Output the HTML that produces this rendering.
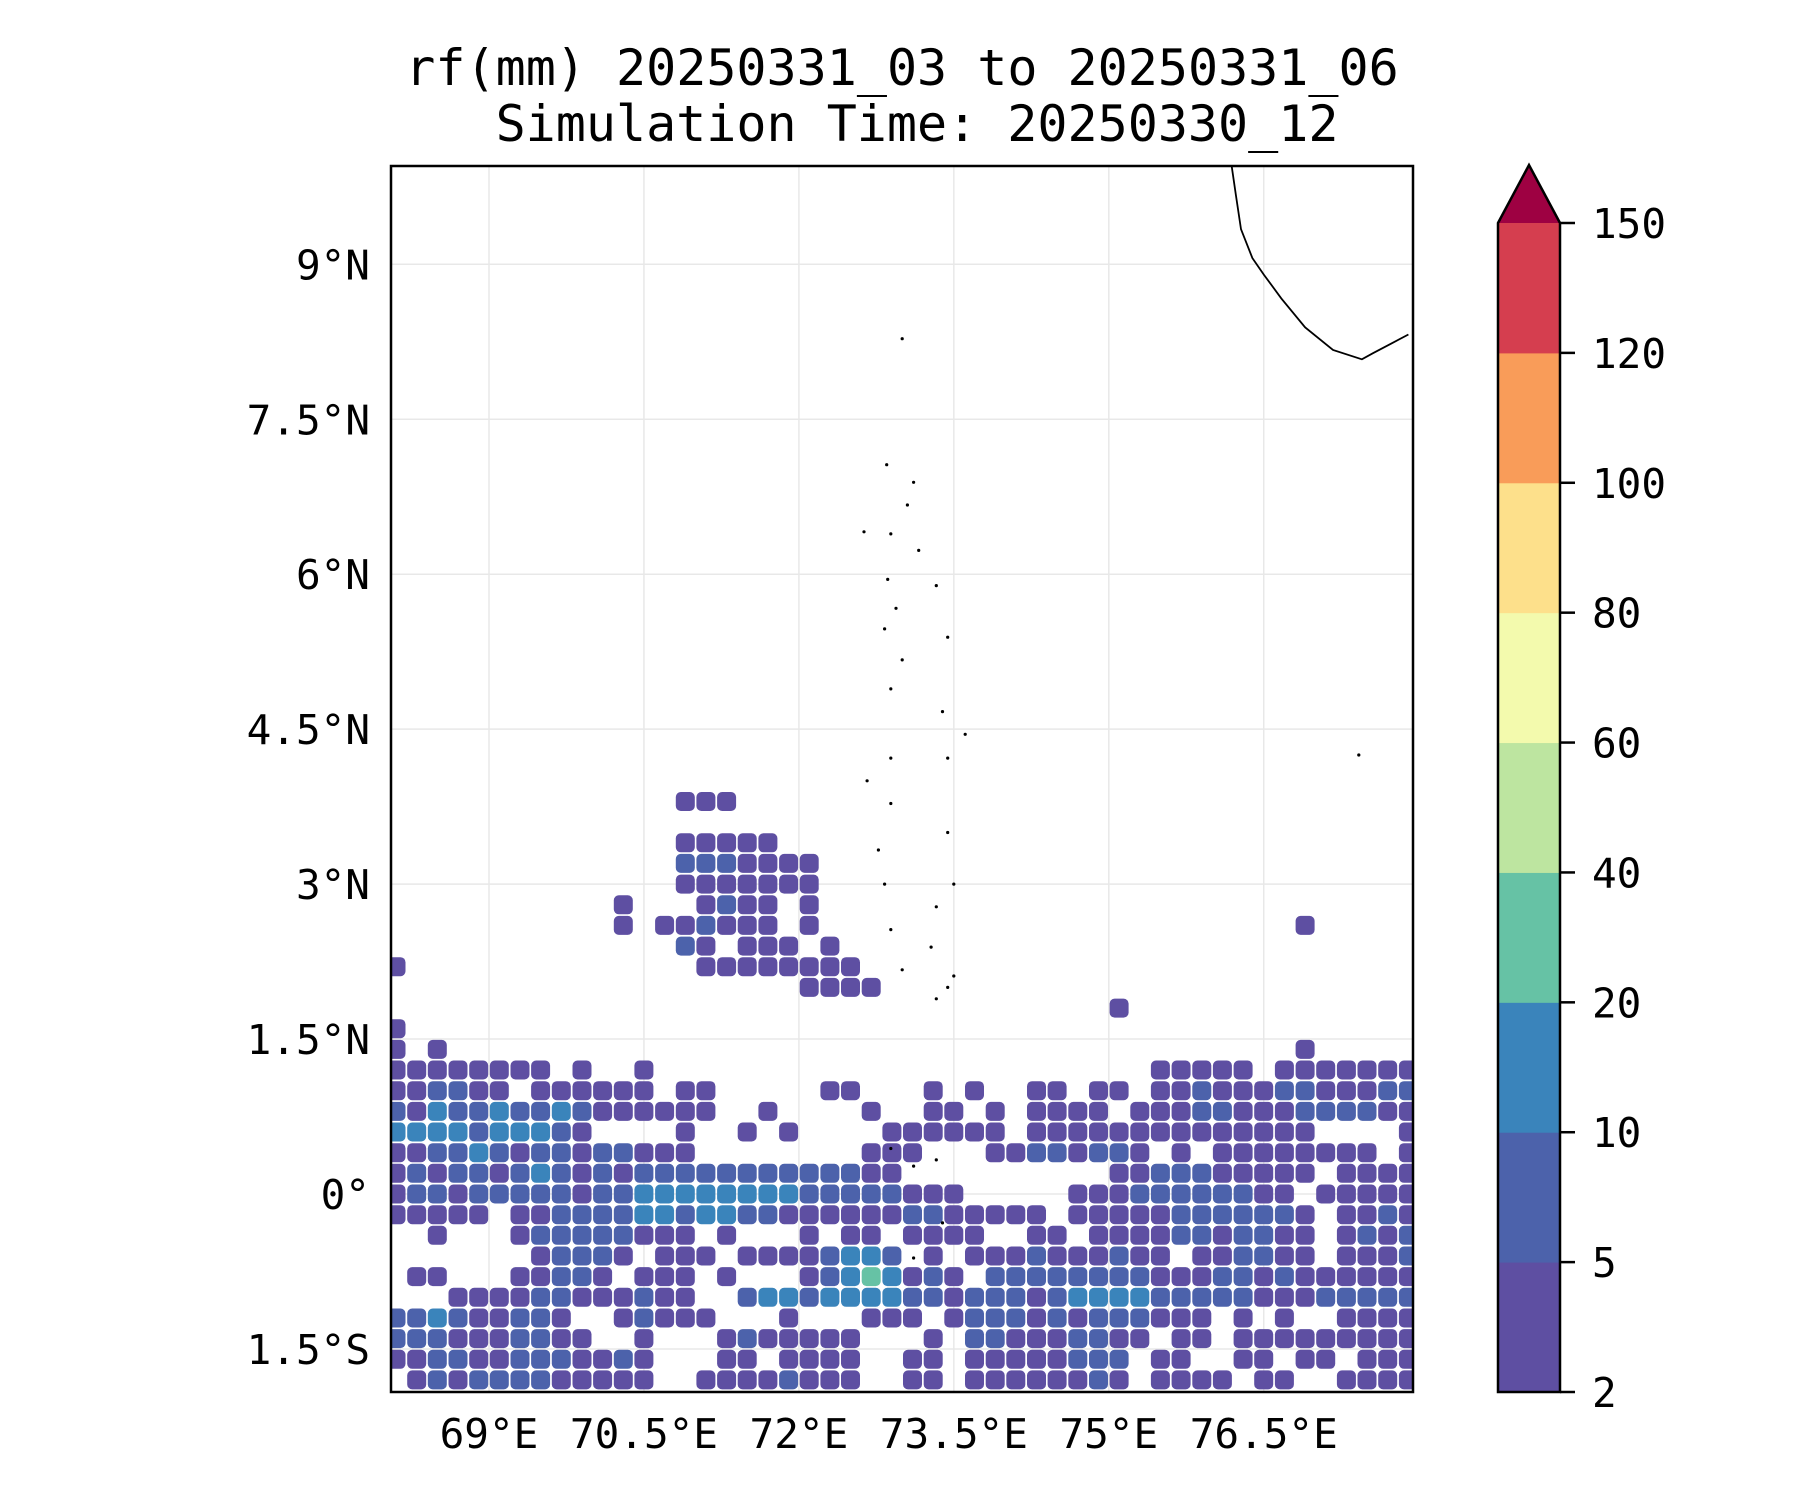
<!DOCTYPE html>
<html><head><meta charset="utf-8">
<style>
html,body{margin:0;padding:0;background:#fff;}
svg{display:block;}
text{font-family:"DejaVu Sans Mono","Liberation Mono",monospace;fill:#000;}
</style></head>
<body>
<svg id="fig" width="1800" height="1500" viewBox="0 0 1800 1500" xmlns="http://www.w3.org/2000/svg">
  <defs>
    <clipPath id="plotclip"><rect x="391" y="166" width="1022" height="1226"/></clipPath>
  </defs>
  <rect width="1800" height="1500" fill="#fff"/>
  <text x="902" y="85" font-size="50" text-anchor="middle">rf(mm) 20250331_03 to 20250331_06</text>
  <text x="917" y="141" font-size="50" text-anchor="middle">Simulation Time: 20250330_12</text>
  <g id="grid"></g>
  <g clip-path="url(#plotclip)">
    <g id="rain"></g>
  </g>
  <g id="coast"></g>
  <rect x="391" y="166" width="1022" height="1226" fill="none" stroke="#000" stroke-width="2.5"/>
  <g id="ylab"></g>
  <g id="xlab"></g>
  <g id="cbar"></g>
</svg>
<script>
// ---- data ----
const lonTicks = [69, 70.5, 72, 73.5, 75, 76.5];
const lonTickLabels = ["69°E", "70.5°E", "72°E", "73.5°E", "75°E", "76.5°E"];
const latTicks = [-1.5, 0, 1.5, 3, 4.5, 6, 7.5, 9];
const latTickLabels = ["1.5°S", "0°", "1.5°N", "3°N", "4.5°N", "6°N", "7.5°N", "9°N"];
const cbarLevels = [2, 5, 10, 20, 40, 60, 80, 100, 120, 150];
const cbarColors = ["#5e4fa2", "#4c62ab", "#3a84bb", "#66c2a5", "#bde5a0", "#f3faad", "#fde08b", "#f99c59", "#d53e4f"];
const cbarExtendColor = "#9e0142";
// rain grid: origin lon 68, top lat 3.9, cell 0.2 deg; digit = colour level index (1-based)
const gridLon0 = 68, gridLat0 = 3.9, gridCell = 0.2;
const rainRows = [
"..... ..... ....1 11...",
"",
"..... ..... ....1 1111.",
"..... ..... ....2 22111 1",
"..... ..... ....1 11111 1",
"..... ..... .1... 1211. 1",
"..... ..... .1.11 2111. 1.... ..... ..... ..... ....1",
"..... ..... ....2 1.111 .1",
"1.... ..... ..... 11111 111",
"..... ..... ..... ..... 1111",
"..... ..... ..... ..... ..... ..... ..... 1",
"1",
"1.1.. ..... ..... ..... ..... ..... ..... ..... ....1",
"11111 111.1 ..1.. ..... ..... ..... ..... ..111 11.11 11111",
"11221 1.111 111.1 1.... .11.. .1.1. .11.1 1.112 11122 11122",
"21322 32232 11111 1..1. ...1. .11.1 .1111 .1112 21112 22211",
"33332 33321 ....1 ..1.1 ....1 11111 .1111 11111 11111 ....1",
"11223 21221 22111 ..... ...11 1...1 12212 21.1. 11111 111.1",
"12122 12321 21222 22222 22211 ..... ..... 11222 11111 .1111",
"12212 22221 22333 33333 22222 111.. ...11 12222 2211. 11111",
"11111 .1122 22332 33221 11111 22111 11.11 11122 22221 .1121",
"..1.. .1222 22111 .1... 1.11. 1111. .11.1 11122 12211 .1212",
"..... ..122 21.11 1.111 12332 .1.11 12111 211.1 12211 .1112",
".11.. .1122 1.111 .1... 12343 121.2 22222 22111 22121 11111",
"...11 11221 11211 ..233 23333 22122 21233 33222 22111 22222",
"22321 1221. .1211 1...1 ...11 1.122 21212 22111 .1.1. .1111",
"22211 12211 ..1.. .1211 111.. .1.22 11122 11.11 .1111 11111",
"11221 12221 121.. .11.1 111.. 11.11 11122 2.11. .11.1 1.111",
".1212 22211 111.. 11112 111.. 11.11 11112 1.111 1.11. .1111",
".1212 22211 111.. 11112 111.. 11.11 11112 1.111 1.11. .1111"
];
const coastLon = [76.19, 76.23, 76.28, 76.39, 76.50, 76.67, 76.90, 77.17, 77.45, 77.56, 77.73, 77.90];
const coastLat = [9.95, 9.67, 9.34, 9.06, 8.90, 8.67, 8.39, 8.17, 8.08, 8.14, 8.23, 8.32];
const islandLon = [73.00,72.85,73.11,73.05,72.89,73.16,72.63,72.86,72.94,73.33,72.83,73.00,73.44,72.89,73.39,73.61,73.44,72.89,72.66,72.89,73.44,72.77,73.50,72.83,73.33,72.89,73.28,73.00,73.50,73.33,73.44,72.89,73.11,73.33,73.39,73.11,77.42];
const islandLat = [8.28,7.06,6.89,6.67,6.39,6.23,6.41,5.95,5.67,5.89,5.47,5.17,5.39,4.89,4.67,4.45,4.22,4.22,4.00,3.78,3.50,3.33,3.00,3.00,2.78,2.56,2.39,2.17,2.11,1.89,2.00,0.44,0.27,0.33,-0.28,-0.62,4.25];

// ---- axes ----
const X0 = 391, X1 = 1413, Y0 = 166, Y1 = 1392;
const PX = 103.3;
function xOf(lon){ return 489 + (lon - 69) * PX; }
function yOf(lat){ return 1194 - lat * PX; }
const cbTop = 223, cbBot = 1392, cbL = 1498, cbR = 1560;
function cbY(i){ return cbBot - i * (cbBot - cbTop) / (cbarLevels.length - 1); }

const NS = "http://www.w3.org/2000/svg";
function mk(tag, parent){ const e = document.createElementNS(NS, tag); parent.appendChild(e); return e; }

// gridlines
const grid = document.getElementById('grid');
lonTicks.forEach(function(lon){
  const l = mk('line', grid);
  
  
  l.setAttribute('x1', xOf(lon)); l.setAttribute('x2', xOf(lon));
  l.setAttribute('y1', Y0); l.setAttribute('y2', Y1);
  l.setAttribute('stroke', '#e8e8e8'); l.setAttribute('stroke-width', '1.5');
});
latTicks.forEach(function(lat){
  const l = mk('line', grid);
  
  
  l.setAttribute('x1', X0); l.setAttribute('x2', X1);
  l.setAttribute('y1', yOf(lat)); l.setAttribute('y2', yOf(lat));
  l.setAttribute('stroke', '#e8e8e8'); l.setAttribute('stroke-width', '1.5');
});

// rain cells: slightly shrunk, rounded blobs to mimic patchy contours
const rain = document.getElementById('rain');
const cw = gridCell * PX;
const shrink = 0.92;
rainRows.forEach(function(rowStr, r){
  const s = rowStr.replace(/ /g, '');
  for (let c = 0; c < s.length; c++){
    const ch = s[c];
    if (ch === '.') continue;
    const lvl = parseInt(ch, 10);
    const lon = gridLon0 + (c + 0.5) * gridCell;
    const lat = gridLat0 - (r + 0.5) * gridCell;
    const cx = xOf(lon), cy = yOf(lat);
    const sz = cw * shrink;
    const rc = mk('rect', rain);
    
    
    rc.setAttribute('x', (cx - sz / 2).toFixed(1)); rc.setAttribute('y', (cy - sz / 2).toFixed(1));
    rc.setAttribute('width', sz.toFixed(1)); rc.setAttribute('height', sz.toFixed(1));
    rc.setAttribute('rx', '5');
    rc.setAttribute('fill', cbarColors[lvl - 1]);
  }
});

// coastline
const coast = document.getElementById('coast');
const pl = mk('polyline', coast);


pl.setAttribute('points', coastLon.map(function(lo, i){ return xOf(lo).toFixed(1) + ',' + yOf(coastLat[i]).toFixed(1); }).join(' '));
pl.setAttribute('fill', 'none'); pl.setAttribute('stroke', '#000'); pl.setAttribute('stroke-width', '1.8');
islandLon.forEach(function(lo, i){
  const c = mk('circle', coast);
  
  
  c.setAttribute('cx', xOf(lo).toFixed(1)); c.setAttribute('cy', yOf(islandLat[i]).toFixed(1));
  c.setAttribute('r', '1.6'); c.setAttribute('fill', '#000');
});

// tick labels
const ylab = document.getElementById('ylab');
latTicks.forEach(function(lat, i){
  const t = mk('text', ylab);
  
  
  t.setAttribute('x', 370); t.setAttribute('y', yOf(lat) + 15);
  t.setAttribute('font-size', '41'); t.setAttribute('text-anchor', 'end');
  t.textContent = latTickLabels[i];
});
const xlab = document.getElementById('xlab');
lonTicks.forEach(function(lon, i){
  const t = mk('text', xlab);
  
  
  t.setAttribute('x', xOf(lon)); t.setAttribute('y', 1448);
  t.setAttribute('font-size', '41'); t.setAttribute('text-anchor', 'middle');
  t.textContent = lonTickLabels[i];
});

// colorbar
const cb = document.getElementById('cbar');
cbarColors.forEach(function(col, i){
  const r = mk('rect', cb);
  
  
  r.setAttribute('x', cbL); r.setAttribute('width', cbR - cbL);
  r.setAttribute('y', cbY(i + 1)); r.setAttribute('height', cbY(i) - cbY(i + 1) + 0.5);
  r.setAttribute('fill', col);
});
const tri = mk('polygon', cb);


tri.setAttribute('points', cbL + ',' + cbTop + ' ' + ((cbL + cbR) / 2) + ',165 ' + cbR + ',' + cbTop);
tri.setAttribute('fill', cbarExtendColor);
const outline = mk('polygon', cb);


outline.setAttribute('points', cbL + ',' + cbBot + ' ' + cbL + ',' + cbTop + ' ' + ((cbL + cbR) / 2) + ',165 ' + cbR + ',' + cbTop + ' ' + cbR + ',' + cbBot);
outline.setAttribute('fill', 'none'); outline.setAttribute('stroke', '#000'); outline.setAttribute('stroke-width', '2.5');
cbarLevels.forEach(function(v, i){
  const y = cbY(i);
  const tk = mk('line', cb);
  
  
  tk.setAttribute('x1', cbR); tk.setAttribute('x2', cbR + 15);
  tk.setAttribute('y1', y); tk.setAttribute('y2', y);
  tk.setAttribute('stroke', '#000'); tk.setAttribute('stroke-width', '2.5');
  const t = mk('text', cb);
  
  
  t.setAttribute('x', 1592); t.setAttribute('y', y + 15);
  t.setAttribute('font-size', '41');
  t.textContent = String(v);
});
</script>
</body></html>
